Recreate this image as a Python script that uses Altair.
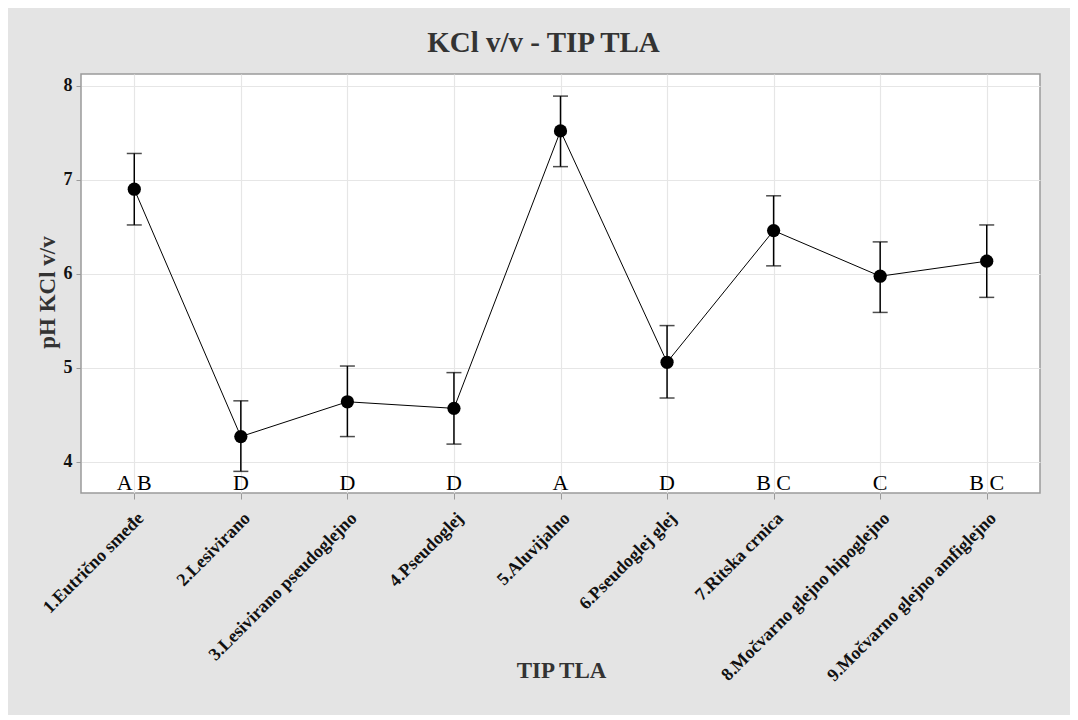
import altair as alt
import pandas as pd

categories = [
    "1.Eutrično smeđe",
    "2.Lesivirano",
    "3.Lesivirano pseudoglejno",
    "4.Pseudoglej",
    "5.Aluvijalno",
    "6.Pseudoglej glej",
    "7.Ritska crnica",
    "8.Močvarno glejno hipoglejno",
    "9.Močvarno glejno amfiglejno",
]
means = [6.90, 4.27, 4.64, 4.57, 7.52, 5.06, 6.46, 5.975, 6.135]
lower = [6.52, 3.90, 4.27, 4.19, 7.14, 4.68, 6.085, 5.59, 5.75]
upper = [7.28, 4.65, 5.02, 4.95, 7.89, 5.45, 6.83, 6.34, 6.52]
groups = ["A B", "D", "D", "D", "A", "D", "B C", "C", "B C"]
y_ticks = [4, 5, 6, 7, 8]

df = pd.DataFrame({
    "tip": categories,
    "mean": means,
    "lo": lower,
    "hi": upper,
    "grp": groups,
})

SERIF = "Liberation Serif"

x_enc = alt.X(
    "tip:N",
    sort=categories,
    scale=alt.Scale(type="point", padding=0.5),
    axis=alt.Axis(
        title="TIP TLA",
        titleFont=SERIF, titleFontSize=23, titleFontWeight="bold", titleColor="#333333",
        titleX=480, titleY=184, titleBaseline="alphabetic", titleAnchor="middle",
        labelFont=SERIF, labelFontSize=18, labelFontWeight="bold", labelColor="#111111",
        labelAngle=-45, labelAlign="right", labelBaseline="top", labelPadding=10,
        labelLimit=400,
        tickColor="#999999", tickSize=6, domain=False,
        grid=True, gridColor="#e6e6e6", gridWidth=1.2,
    ),
)
y_scale = alt.Scale(domain=[3.67, 8.125], nice=False, zero=False)
y_axis = alt.Axis(
    title="pH KCl v/v", values=y_ticks, format="d",
    titleFont=SERIF, titleFontSize=23, titleFontWeight="bold", titleColor="#333333",
    titleX=-34, titleY=218, titleBaseline="middle", titleAngle=-90,
    labelFont=SERIF, labelFontSize=18, labelFontWeight="bold", labelColor="#111111",
    labelPadding=4, tickColor="#999999", tickSize=5, domain=False,
    grid=True, gridColor="#e6e6e6", gridWidth=1.2,
)

base = alt.Chart(df)

line = base.mark_line(color="#000000", strokeWidth=1).encode(
    x=x_enc, y=alt.Y("mean:Q", scale=y_scale, axis=y_axis)
)
rules = base.mark_rule(color="#000000", strokeWidth=1.5).encode(
    x=alt.X("tip:N", sort=categories), y=alt.Y("lo:Q"), y2="hi:Q"
)
caps_hi = base.mark_tick(color="#000000", thickness=1.5, size=15, orient="horizontal").encode(
    x=alt.X("tip:N", sort=categories), y=alt.Y("hi:Q")
)
caps_lo = base.mark_tick(color="#000000", thickness=1.5, size=15, orient="horizontal").encode(
    x=alt.X("tip:N", sort=categories), y=alt.Y("lo:Q")
)
points = base.mark_circle(color="#000000", opacity=1, size=175).encode(
    x=alt.X("tip:N", sort=categories), y=alt.Y("mean:Q")
)
letters = base.mark_text(
    font=SERIF, fontSize=22, color="#000000", baseline="alphabetic", align="center"
).encode(
    x=alt.X("tip:N", sort=categories), y=alt.value(416), text="grp:N"
)

chart = alt.layer(line, rules, caps_hi, caps_lo, points, letters).properties(
    width=959,
    height=419,
    title=alt.TitleParams(
        "KCl v/v - TIP TLA", font=SERIF, fontSize=29, fontWeight="bold",
        color="#333333", dx=-17, offset=16, anchor="middle",
    ),
    autosize=alt.AutoSizeParams(type="none"),
    padding={"left": 73, "top": 66, "right": 30, "bottom": 222},
    background="#e4e4e4",
).configure_view(
    stroke="#9a9a9a", strokeWidth=1.5, fill="#ffffff"
)

chart.save("out.html", embed_options={"renderer": "svg", "actions": False})
